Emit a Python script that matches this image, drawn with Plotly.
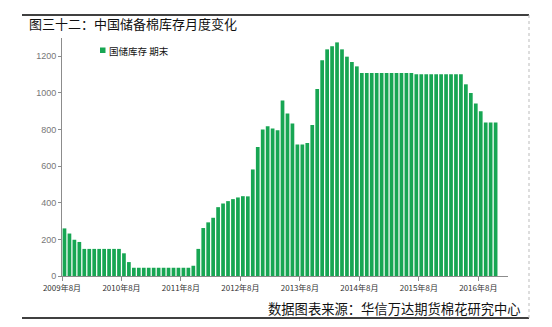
import plotly.graph_objects as go

# Monthly reserve cotton inventory (万吨), 2009-08 .. 2016-11
values = [
    260, 232, 198, 186,                      # 2009-08..11
    148, 148, 148, 148, 148, 148, 148, 148,  # 2009-12..2010-07
    124, 76,                                 # 2010-08..09
    45, 45, 45, 45, 45, 45, 45, 45, 45, 45, 45, 45,  # 2010-10..2011-09
    56, 148, 262, 293, 318, 376, 396, 409, 420, 429,  # 2011-10..2012-07
    436, 435, 582, 705, 800, 818, 805, 796, 958, 887, 833, 718,  # 2012-08..2013-07
    718, 727, 825, 1022, 1178, 1238, 1255, 1276, 1238, 1198, 1169, 1145,  # 2013-08..2014-07
    1109, 1109, 1109, 1109, 1109, 1109, 1109, 1109, 1109, 1109, 1109, 1102,  # 2014-08..2015-07
    1102, 1102, 1102, 1102, 1102, 1102, 1102, 1102, 1102, 1047, 1000, 942,  # 2015-08..2016-07
    900, 838, 838, 838,                      # 2016-08..11
]
tick_labels = ["2009年8月", "2010年8月", "2011年8月", "2012年8月",
               "2013年8月", "2014年8月", "2015年8月", "2016年8月"]
tick_positions = [-0.5, 11.5, 23.5, 35.5, 47.5, 59.5, 71.5, 83.5]
n_slots = 90

title_text = "图三十二：中国储备棉库存月度变化"
source_text = "数据图表来源：华信万达期货棉花研究中心"
legend_name = "国储库存 期末"

green = "#17a653"
axis_gray = "#8c8c8c"
cjk = "Noto Sans CJK SC"

# plot area in pixels (for paper-coordinate conversions of decorations)
PL, PR, PT, PB = 62, 508, 38, 276
PW, PH = PR - PL, PB - PT


def px(xp):
    return (xp - PL) / PW


def py(yp):
    return (PB - yp) / PH


x = list(range(len(values)))

fig = go.Figure()
fig.add_trace(go.Bar(x=x, y=values, marker=dict(color=green, line=dict(width=0)),
                     showlegend=False, name=legend_name))

fig.update_layout(
    width=552, height=327,
    margin=dict(l=PL, r=552 - PR, t=PT, b=327 - PB),
    paper_bgcolor="white", plot_bgcolor="white",
    bargap=0.25,
    font=dict(family=cjk, color="#595959"),
    showlegend=False,
    xaxis=dict(range=[-0.5, n_slots - 0.5], showgrid=False, zeroline=False,
               showline=True, linecolor=axis_gray, linewidth=1,
               ticks="outside", ticklen=4, tickcolor=axis_gray,
               tickvals=tick_positions, ticktext=tick_labels,
               tickfont=dict(size=8, color="#333333", family=cjk)),
    yaxis=dict(range=[0, 1300], showgrid=False, zeroline=False,
               showline=True, linecolor=axis_gray, linewidth=1,
               ticks="outside", ticklen=3, tickcolor=axis_gray,
               tickvals=[0, 200, 400, 600, 800, 1000, 1200],
               tickfont=dict(size=9, color="#777777", family="Liberation Sans")),
)

# legend (square + label)
fig.add_shape(type="rect", xref="paper", yref="paper",
              x0=px(100), x1=px(105.5), y0=py(53), y1=py(47.5),
              fillcolor=green, line=dict(width=0))
fig.add_annotation(text=legend_name, xref="paper", yref="paper",
                   x=px(107), y=py(50.5), xanchor="left", yanchor="middle",
                   showarrow=False, font=dict(size=9.5, color="#111111", family=cjk))

# decorative frame lines (top, bottom, right dashed)
fig.add_shape(type="line", xref="paper", yref="paper",
              x0=px(22), x1=px(529), y0=py(15), y1=py(15),
              line=dict(color="black", width=1.5))
fig.add_shape(type="line", xref="paper", yref="paper",
              x0=px(22), x1=px(529), y0=py(318), y1=py(318),
              line=dict(color="black", width=1.5))
fig.add_shape(type="line", xref="paper", yref="paper",
              x0=px(529), x1=px(529), y0=py(15), y1=py(318),
              line=dict(color="#bbbbbb", width=1, dash="dot"))

fig.add_annotation(text=title_text, xref="paper", yref="paper",
                   x=px(27), y=py(23), xanchor="left", yanchor="middle",
                   showarrow=False, font=dict(size=13, color="#111111", family=cjk))
fig.add_annotation(text=source_text, xref="paper", yref="paper",
                   x=px(523), y=py(308), xanchor="right", yanchor="middle",
                   showarrow=False, font=dict(size=13.3, color="#111111", family=cjk))

fig.write_html("out.html")
